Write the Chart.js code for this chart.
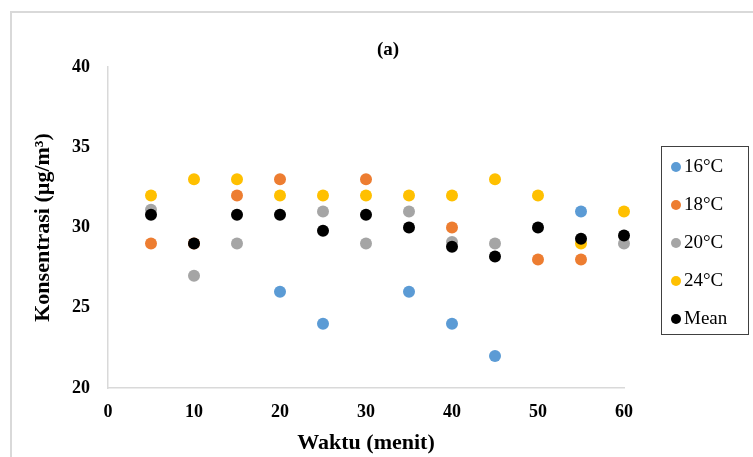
<!DOCTYPE html>
<html>
<head>
<meta charset="utf-8">
<script src="https://cdn.jsdelivr.net/npm/chart.js"></script>
<style>
  html, body { margin: 0; padding: 0; background: #fff; }
  body { width: 753px; height: 457px; position: relative; overflow: hidden; }
  #frame {
    position: absolute; left: 10px; top: 11px; width: 800px; height: 500px;
    border-left: 2px solid #d9d9d9; border-top: 2px solid #d9d9d9;
  }
  #wrap { position: absolute; left: 0; top: 0; width: 753px; height: 457px; }
  #title {
    position: absolute; left: 338px; width: 100px; top: 38px; text-align: center;
    font-family: 'Liberation Serif', serif; font-size: 19px; font-weight: bold; color: #000;
  }
  #legend {
    position: absolute; left: 661px; top: 146px; width: 88px; height: 189px;
    border: 1.5px solid #404040; box-sizing: border-box;
    font-family: 'Liberation Serif', serif; font-size: 19px; color: #000;
  }
  .item { position: absolute; left: 9px; height: 22px; line-height: 22px; white-space: nowrap; }
  .dot { display: inline-block; width: 10px; height: 10px; border-radius: 50%; margin-right: 3px; vertical-align: 0px; }
</style>
</head>
<body>
<div id="frame"></div>
<div id="wrap"><canvas id="chart" width="753" height="457"></canvas></div>
<div id="title">(a)</div>
<div id="legend"></div>
<script>
// time in minutes
const waktu = [5, 10, 15, 20, 25, 30, 35, 40, 45, 50, 55, 60];

// concentration (µg/m³), null where no point is shown
const t16 = [null, null, null, 26, 24, null, 26, 24, 22, null, 31, null];
const t18 = [29, 29, 32, 33, null, 33, null, 30, null, 28, 28, null];
const t20 = [31.1, 27, 29, null, 31, 29, 31, 29.1, 29, null, null, 29];
const t24 = [32, 33, 33, 32, 32, 32, 32, 32, 33, 32, 29, 31];
const mean = [30.8, 29, 30.8, 30.8, 29.8, 30.8, 30, 28.8, 28.2, 30, 29.3, 29.5];

const seriesNames = ['16°C', '18°C', '20°C', '24°C', 'Mean'];
const seriesData = [t16, t18, t20, t24, mean];
const seriesColors = ['#5b9bd5', '#ed7d31', '#a5a5a5', '#ffc000', '#000000'];

const xTicks = [0, 10, 20, 30, 40, 50, 60];
const yTicks = [20, 25, 30, 35, 40];

function toPoints(values) {
  return waktu.map((x, i) => ({ x: x, y: values[i] })).filter(p => p.y !== null);
}

const datasets = seriesNames.map((name, i) => ({
  label: name,
  data: toPoints(seriesData[i]),
  backgroundColor: seriesColors[i],
  borderColor: seriesColors[i],
  pointRadius: 6,
  pointBorderWidth: 0,
  showLine: false,
  clip: false,
  // Excel draws the last series on top
  order: seriesNames.length - i
}));

const serif = "'Liberation Serif', 'Times New Roman', serif";

new Chart(document.getElementById('chart'), {
  type: 'scatter',
  data: { datasets: datasets },
  options: {
    responsive: false,
    animation: false,
    layout: { padding: { left: 20, right: 129, top: 67, bottom: 0 } },
    plugins: {
      legend: { display: false },
      tooltip: { enabled: false }
    },
    scales: {
      x: {
        type: 'linear',
        min: 0, max: 60,
        afterBuildTicks: (axis) => { axis.ticks = xTicks.map(v => ({ value: v })); },
        afterFit: (axis) => { axis.height = 69; },
        grid: { display: false, drawTicks: false },
        border: { display: true, color: '#d9d9d9', width: 1.5 },
        ticks: {
          color: '#000', padding: 14,
          font: { family: serif, size: 18, weight: 'bold' }
        },
        title: {
          display: true, text: 'Waktu (menit)', color: '#000',
          font: { family: serif, size: 22, weight: 'bold' },
          padding: { top: 0, bottom: 0 }
        }
      },
      y: {
        min: 20, max: 40,
        afterBuildTicks: (axis) => { axis.ticks = yTicks.map(v => ({ value: v })); },
        afterFit: (axis) => { axis.width = 88; },
        grid: { display: false, drawTicks: false },
        border: { display: true, color: '#d9d9d9', width: 1.5 },
        ticks: {
          color: '#000', padding: 18,
          font: { family: serif, size: 18, weight: 'bold' }
        },
        title: {
          display: true, text: 'Konsentrasi (µg/m³)', color: '#000',
          font: { family: serif, size: 22, weight: 'bold' },
          padding: { top: 10, bottom: 0 }
        }
      }
    }
  }
});

// legend box, built from the same series arrays
const legend = document.getElementById('legend');
seriesNames.forEach((name, i) => {
  const item = document.createElement('div');
  item.className = 'item';
  item.style.top = (8 + i * 38) + 'px';
  item.innerHTML = '<span class="dot" style="background:' + seriesColors[i] + '"></span>' + name;
  legend.appendChild(item);
});
</script>
</body>
</html>
